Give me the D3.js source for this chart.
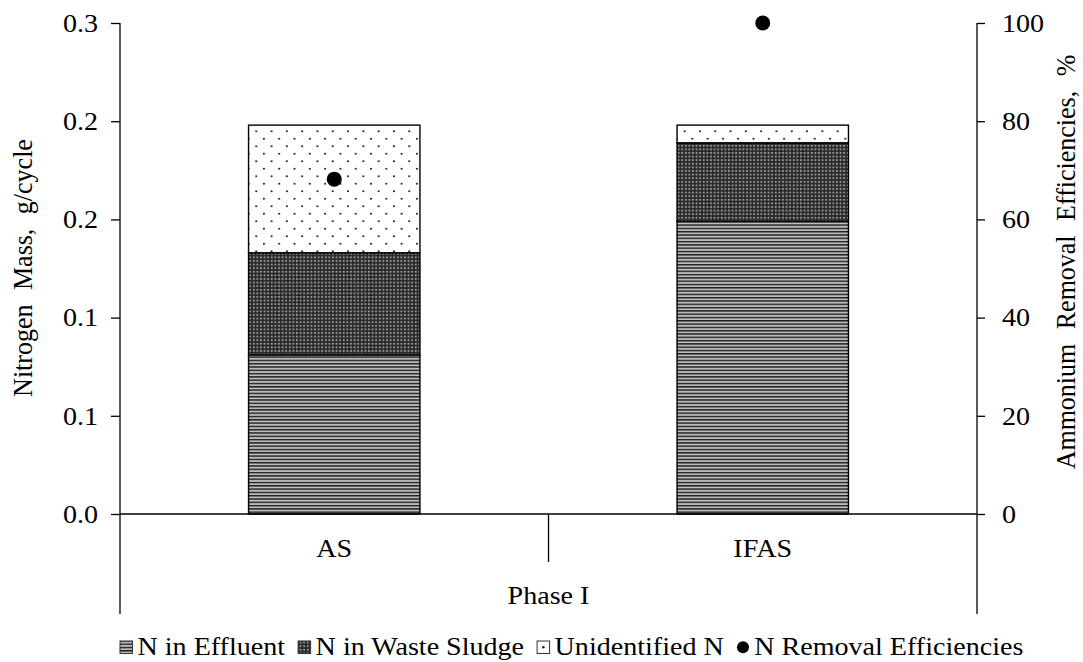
<!DOCTYPE html>
<html>
<head>
<meta charset="utf-8">
<script src="https://cdn.jsdelivr.net/npm/d3@7"></script>
<style>
  body { margin: 0; background: #fff; }
  svg { display: block; }
  text { font-family: "Liberation Serif", "Times New Roman", serif; fill: #000; }
</style>
</head>
<body>
<svg id="chart" width="1083" height="662"></svg>
<script>
// ---- data ----
const categories = ["AS", "IFAS"];
const groupLabel = "Phase I";
const nEffluent = [0.081, 0.149];      // g/cycle
const nWasteSludge = [0.052, 0.040];   // g/cycle
const nUnidentified = [0.065, 0.009];  // g/cycle
const removalEfficiency = [68.2, 100]; // %
const leftTickValues = [0, 0.05, 0.10, 0.15, 0.20, 0.25];
const leftTickLabels = ["0.0", "0.1", "0.1", "0.2", "0.2", "0.3"];
const rightTickValues = [0, 20, 40, 60, 80, 100];
const seriesNames = ["N in Effluent", "N in Waste Sludge", "Unidentified N", "N Removal Efficiencies"];
const leftTitle = "Nitrogen Mass, g/cycle";
const rightTitle = "Ammonium Removal Efficiencies, %";

// ---- layout ----
const L = 120, R = 977, T = 23, B = 514;
const FS = 26, SX = 1.08;   // font size and horizontal glyph stretch
const svg = d3.select("#chart");

const x = d3.scaleBand().domain(categories).range([L, R]);
const barW = x.bandwidth() * 0.4;
const yL = d3.scaleLinear().domain([0, 0.25]).range([B, T]);
const yR = d3.scaleLinear().domain([0, 100]).range([B, T]);

// ---- fill patterns ----
const defs = svg.append("defs");
const pE = defs.append("pattern").attr("id", "pat-eff")
  .attr("patternUnits", "userSpaceOnUse").attr("width", 6).attr("height", 3.3);
pE.append("rect").attr("width", 6).attr("height", 3.3).attr("fill", "#bcbcbc");
pE.append("rect").attr("width", 6).attr("height", 1.4).attr("fill", "#1e1e1e");

const pS = defs.append("pattern").attr("id", "pat-sludge")
  .attr("patternUnits", "userSpaceOnUse").attr("width", 3.6).attr("height", 3.6);
pS.append("rect").attr("width", 3.6).attr("height", 3.6).attr("fill", "#2c2c2c");
pS.append("rect").attr("x", 1).attr("y", 1).attr("width", 1.5).attr("height", 1.5).attr("fill", "#c4c4c4");

const pU = defs.append("pattern").attr("id", "pat-unid")
  .attr("patternUnits", "userSpaceOnUse").attr("width", 15.3).attr("height", 15);
pU.append("rect").attr("width", 15.3).attr("height", 15).attr("fill", "#fff");
pU.append("circle").attr("cx", 3.8).attr("cy", 3.7).attr("r", 1.05).attr("fill", "#222");
pU.append("circle").attr("cx", 11.45).attr("cy", 11.2).attr("r", 1.05).attr("fill", "#222");

const fills = ["url(#pat-eff)", "url(#pat-sludge)", "url(#pat-unid)"];

// ---- stacked bars ----
const rows = categories.map((c, i) => ({ cat: c, eff: nEffluent[i], sludge: nWasteSludge[i], unid: nUnidentified[i] }));
const stack = d3.stack().keys(["eff", "sludge", "unid"])(rows);

svg.append("g").selectAll("g").data(stack).join("g")
  .attr("fill", (d, i) => fills[i])
  .selectAll("rect").data(d => d).join("rect")
  .attr("x", d => x(d.data.cat) + (x.bandwidth() - barW) / 2)
  .attr("y", d => yL(d[1]))
  .attr("width", barW)
  .attr("height", d => yL(d[0]) - yL(d[1]))
  .attr("stroke", "#000").attr("stroke-width", 1.4);

// ---- axes ----
const axL = d3.axisLeft(yL).tickValues(leftTickValues)
  .tickFormat((d, i) => leftTickLabels[i]).tickSizeInner(9).tickSizeOuter(0).tickPadding(13);
const gL = svg.append("g").attr("transform", `translate(${L},0)`).call(axL);

const axR = d3.axisRight(yR).tickValues(rightTickValues)
  .tickFormat(d3.format("d")).tickSizeInner(8).tickSizeOuter(0).tickPadding(17);
const gR = svg.append("g").attr("transform", `translate(${R},0)`).call(axR);

[gL, gR].forEach(g => {
  g.select(".domain").remove();
  g.selectAll(".tick line").attr("stroke", "#000").attr("stroke-width", 1.3);
  g.selectAll(".tick text").attr("font-size", FS).attr("font-family", null)
    .attr("transform", `scale(${SX},1)`)
    .attr("x", function () { return +d3.select(this).attr("x") / SX; });
});

// axis lines, category axis and grouping lines
const lines = svg.append("g").attr("stroke", "#000").attr("stroke-width", 1.3);
lines.append("line").attr("x1", L).attr("x2", L).attr("y1", T).attr("y2", 614);
lines.append("line").attr("x1", R).attr("x2", R).attr("y1", T).attr("y2", 614);
lines.append("line").attr("x1", L).attr("x2", R).attr("y1", B).attr("y2", B);
lines.append("line").attr("x1", (L + R) / 2).attr("x2", (L + R) / 2).attr("y1", B).attr("y2", 562);

function hText(tx, ty, str, anchor) {
  return svg.append("text")
    .attr("transform", `translate(${tx},${ty}) scale(${SX},1)`)
    .attr("text-anchor", anchor || "middle")
    .attr("font-size", FS).text(str);
}

categories.forEach(c => hText(x(c) + x.bandwidth() / 2, 557, c));
hText((L + R) / 2, 604, groupLabel);

// ---- efficiency points ----
svg.append("g").selectAll("circle").data(removalEfficiency).join("circle")
  .attr("cx", (d, i) => x(categories[i]) + x.bandwidth() / 2)
  .attr("cy", d => yR(d))
  .attr("r", 7.5).attr("fill", "#000");

// ---- axis titles (wide word gaps) ----
function vTitle(cx, cy, str) {
  return svg.append("text")
    .attr("transform", `translate(${cx},${cy}) rotate(-90) scale(1,${SX})`)
    .attr("text-anchor", "middle").attr("dominant-baseline", "central")
    .attr("font-size", FS).attr("word-spacing", 8).text(str);
}
vTitle(23, 268, leftTitle);
vTitle(1066, 262, rightTitle);

// ---- legend ----
const leg = svg.append("g");
let cx = 120;
const lgTop = 641, lgBase = 655, mk = 12.5;
seriesNames.forEach((name, i) => {
  if (i < 2) {
    leg.append("rect").attr("x", cx).attr("y", lgTop).attr("width", mk).attr("height", mk)
      .attr("fill", fills[i]).attr("stroke", "#333").attr("stroke-width", 1);
  } else if (i === 2) {
    leg.append("rect").attr("x", cx).attr("y", lgTop).attr("width", mk).attr("height", mk)
      .attr("fill", "#fff").attr("stroke", "#333").attr("stroke-width", 1);
    leg.append("circle").attr("cx", cx + mk / 2).attr("cy", lgTop + mk / 2).attr("r", 1.3).attr("fill", "#222");
  } else {
    leg.append("circle").attr("cx", cx + mk / 2).attr("cy", lgTop + mk / 2).attr("r", 6).attr("fill", "#000");
  }
  cx += mk + 5;
  const t = leg.append("text")
    .attr("transform", `translate(${cx},${lgBase}) scale(${SX},1)`)
    .attr("font-size", FS).text(name);
  cx += t.node().getComputedTextLength() * SX + 13;
});
</script>
</body>
</html>
